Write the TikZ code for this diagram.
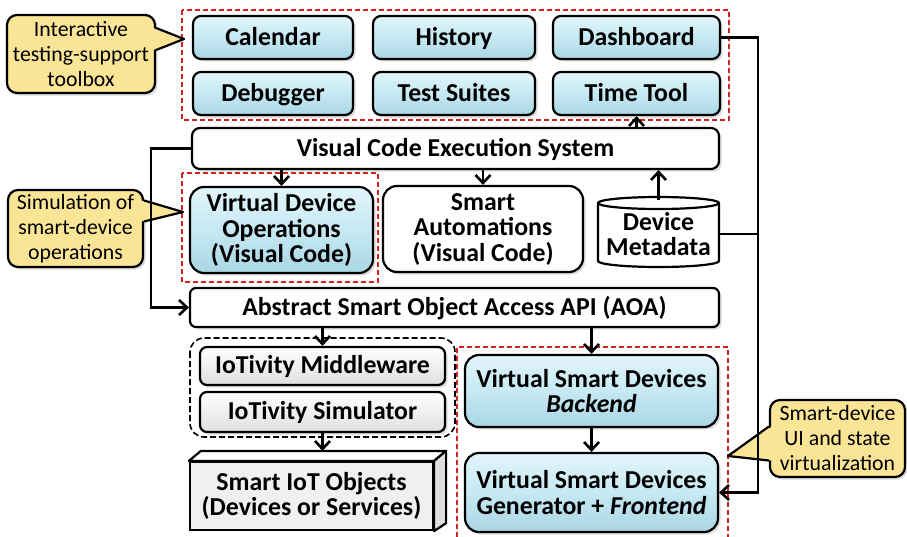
\documentclass[tikz,border=0pt]{standalone}
\usepackage{fontspec}
\setmainfont{Carlito}
\usetikzlibrary{arrows.meta,shadows}

\definecolor{bluetop}{RGB}{226,245,250}
\definecolor{bluemid}{RGB}{198,233,243}
\definecolor{bluebot}{RGB}{170,214,229}
\definecolor{greymid}{RGB}{240,240,240}
\definecolor{greybot}{RGB}{222,222,222}
\definecolor{notefill}{RGB}{250,228,150}
\definecolor{framered}{RGB}{212,32,32}

\begin{document}
\begin{tikzpicture}[x=1pt,y=-1pt,
  boxline/.style={draw=black, line width=2.2pt},
  shadowed/.style={drop shadow={shadow xshift=2.5pt, shadow yshift=-2.5pt, opacity=0.28}},
  boxfont/.style={font=\bfseries\fontsize{25.8}{25.5}\selectfont},
  oneline/.style={text height=17pt, text depth=2pt},
  bluebox/.style={boxline, shadowed, top color=bluetop, bottom color=bluebot, middle color=bluemid,
    boxfont, align=center, inner sep=2pt},
  whitebox/.style={boxline, shadowed, fill=white, boxfont, align=center, inner sep=2pt},
  greybox/.style={boxline, shadowed, top color=white, bottom color=greybot, middle color=greymid,
    boxfont, align=center, inner sep=2pt},
  tool/.style={bluebox, oneline, rounded corners=8pt, minimum height=43pt},
  notebox/.style={boxline, shadowed, fill=notefill, rounded corners=10pt, align=center,
    font=\fontsize{21.8}{25}\selectfont, inner sep=2pt},
  redframe/.style={draw=framered, line width=1.5pt, dash pattern=on 5pt off 3pt},
  groupframe/.style={draw=black, line width=1.6pt, dash pattern=on 6pt off 3pt, rounded corners=14pt},
  conn/.style={line width=2.6pt, -{Straight Barb[length=8pt,width=15pt]}},
  link/.style={line width=2.6pt},
]
\useasboundingbox (0,0) rectangle (907,536);

% ---- dashed group frames ----
\draw[redframe] (182,10) rectangle (729,120);
\draw[redframe] (182,173) rectangle (378,282);
\draw[redframe] (457,545) -- (457,347) -- (728,347) -- (728,545);
\draw[groupframe] (190,338) rectangle (455,437);

% ---- testing-support toolbox ----
\node[tool, minimum width=160pt] (cal)    at (273,37.5)   {Calendar};
\node[tool, minimum width=162pt] (hist)   at (454,37.5)   {History};
\node[tool, minimum width=167pt] (dash)   at (636.5,37.5) {Dashboard};
\node[tool, minimum width=160pt] (dbg)    at (273,93.5)   {Debugger};
\node[tool, minimum width=162pt] (suites) at (454,93.5)   {Test Suites};
\node[tool, minimum width=167pt] (time)   at (636.5,93.5) {Time Tool};

% ---- execution layer ----
\node[whitebox, oneline, rounded corners=8pt, minimum width=527pt, minimum height=41pt] (vces) at (455.5,148.5)
  {Visual Code Execution System};
\node[bluebox, rounded corners=14pt, minimum width=183pt, minimum height=86pt] (vdo) at (281.5,230)
  {Virtual Device\\Operations\\(Visual Code)};
\node[whitebox, rounded corners=14pt, minimum width=200pt, minimum height=86pt] (sa) at (483,229)
  {Smart\\Automations\\(Visual Code)};

% device metadata store (cylinder)
\coordinate (metac) at (658.5,232);
\draw[boxline, fill=white]
  ([shift={(-60.5pt,29pt)}]metac) -- ([shift={(-60.5pt,-29pt)}]metac)
  arc[start angle=180, end angle=360, x radius=60.5pt, y radius=6pt]
  -- ([shift={(60.5pt,29pt)}]metac)
  arc[start angle=0, end angle=180, x radius=60.5pt, y radius=6pt] -- cycle;
\draw[boxline] ([shift={(-60.5pt,29pt)}]metac)
  arc[start angle=180, end angle=360, x radius=60.5pt, y radius=6pt];
\node[boxfont, align=center, minimum width=121pt, minimum height=70pt, inner sep=0pt] (meta)
  at ([yshift=-2pt]metac) {Device\\Metadata};

\node[whitebox, oneline, rounded corners=6pt, minimum width=529pt, minimum height=39pt] (api) at (454.5,307.5)
  {Abstract Smart Object Access API (AOA)};

% ---- IoTivity stack ----
\node[greybox, oneline, rounded corners=7pt, minimum width=245pt, minimum height=38pt] (mid) at (322.5,366)
  {IoTivity Middleware};
\node[greybox, oneline, rounded corners=7pt, minimum width=245pt, minimum height=40pt] (sim) at (322.5,412)
  {IoTivity Simulator};

% smart IoT objects (3D block)
\node[boxline, fill=greymid, boxfont, align=center, minimum width=243pt, minimum height=68pt, inner sep=2pt]
  (iot) at (311.5,496) {Smart IoT Objects\\(Devices or Services)};
\draw[boxline, fill=white, line join=round]
  (iot.north west) -- ++(12pt,10pt) -- ([shift={(12pt,10pt)}]iot.north east) -- (iot.north east) -- cycle;
\draw[boxline, fill=greybot, line join=round]
  (iot.north east) -- ++(12pt,10pt) -- ([shift={(12pt,8pt)}]iot.south east) -- (iot.south east) -- cycle;

% ---- virtual smart devices ----
\node[bluebox, rounded corners=14pt, minimum width=253pt, minimum height=72pt] (back) at (591.5,391)
  {Virtual Smart Devices\\\textit{Backend}};
\node[bluebox, rounded corners=14pt, minimum width=253pt, minimum height=79pt] (gen) at (591.5,492.5)
  {Virtual Smart Devices\\Generator + \textit{Frontend}};

% ---- callouts ----
\node[notebox, minimum width=148pt, minimum height=78pt] (n1) at (81,54)
  {Interactive\\testing-support\\toolbox};
\coordinate (n1tip) at (184,39);
\fill[notefill] ([shift={(-3pt,26pt)}]n1.east) -- (n1tip) -- ([shift={(-3pt,4pt)}]n1.east) -- cycle;
\draw[boxline, line join=round] ([yshift=26pt]n1.east) -- (n1tip) -- ([yshift=4pt]n1.east);

\node[notebox, minimum width=135pt, minimum height=77pt] (n2) at (75.5,228.5)
  {Simulation of\\smart-device\\operations};
\coordinate (n2tip) at (183,212);
\fill[notefill] ([shift={(-3pt,28pt)}]n2.east) -- (n2tip) -- ([shift={(-3pt,7pt)}]n2.east) -- cycle;
\draw[boxline, line join=round] ([yshift=28pt]n2.east) -- (n2tip) -- ([yshift=7pt]n2.east);

\node[notebox, minimum width=135pt, minimum height=77pt] (n3) at (837.5,438.5)
  {Smart-device\\UI and state\\virtualization};
\coordinate (n3tip) at (728,456);
\fill[notefill] ([shift={(3pt,12pt)}]n3.west) -- (n3tip) -- ([shift={(3pt,-22pt)}]n3.west) -- cycle;
\draw[boxline, line join=round] ([yshift=12pt]n3.west) -- (n3tip) -- ([yshift=-22pt]n3.west);

% ---- connectors ----
\coordinate (rail) at (758,0);
\draw[conn] (dash.east) -- (dash.east -| rail) |- (gen.east);
\draw[link] (meta.east -| metac) ++(60.5pt,0) -- (meta.east -| rail);
\draw[conn] ([yshift=-1pt]meta.north) -- (meta.north |- vces.south);
\draw[conn] (vces.north -| time.south) -- (time.south);
\draw[conn] (vces.south -| vdo.north) -- (vdo.north);
\draw[conn] (vces.south -| sa.north) -- (sa.north);
\draw[conn] (vces.west) -- ++(-40,0) |- (api.west);
\draw[conn] (api.south -| mid.north) -- (mid.north);
\draw[conn] (api.south -| back.north) -- (back.north);
\draw[conn] (back.south) -- (gen.north);
\draw[conn] (sim.south) -- ([yshift=10pt]iot.north -| sim.south);
\end{tikzpicture}
\end{document}
